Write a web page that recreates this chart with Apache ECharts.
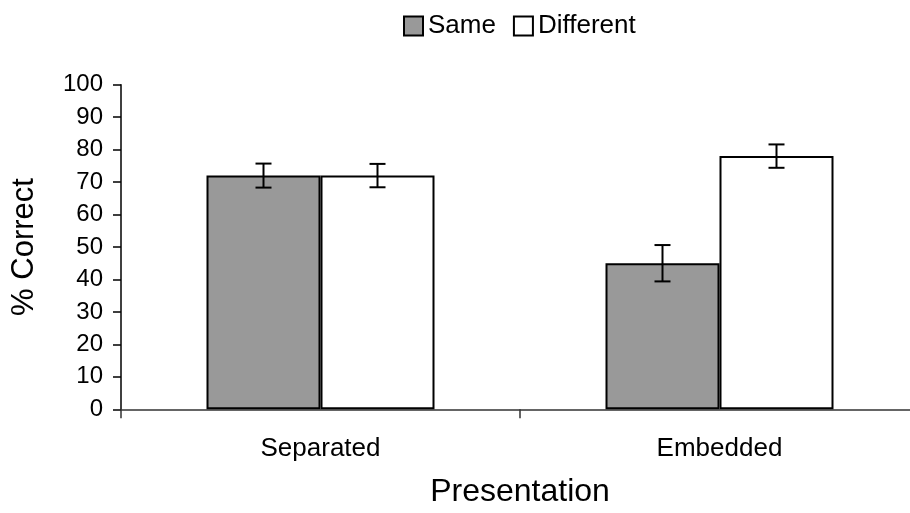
<!DOCTYPE html>
<html>
<head>
<meta charset="utf-8">
<script src="https://cdn.jsdelivr.net/npm/echarts@6/dist/echarts.min.js"></script>
<style>
html,body{margin:0;padding:0;background:#fff;}
#chart{width:910px;height:513px;}
</style>
</head>
<body>
<div id="chart"></div>
<script>
const categories = ['Separated', 'Embedded'];
const seriesNames = ['Same', 'Different'];
const sameValues = [72, 45];
const differentValues = [72, 78];
const sameErrors = [3.7, 5.6];
const differentErrors = [3.6, 3.6];
const yTicks = [0, 10, 20, 30, 40, 50, 60, 70, 80, 90, 100];

const FONT = '"Liberation Sans", Arial, sans-serif';
const BAR_W = 114;
const CAP_W = 16;

function errorSeries(name, values, errors, sign) {
  return {
    type: 'custom',
    name: name + ' error',
    silent: true,
    z: 5,
    data: values.map((v, i) => [i, v, errors[i]]),
    renderItem: function (params, api) {
      const idx = api.value(0);
      const v = api.value(1);
      const e = api.value(2);
      const top = api.coord([idx, v + e]);
      const bot = api.coord([idx, v - e]);
      const x = top[0] + sign * BAR_W / 2;
      const style = { stroke: '#000', lineWidth: 2, fill: null };
      return {
        type: 'group',
        children: [
          { type: 'line', shape: { x1: x, y1: top[1], x2: x, y2: bot[1] }, style: style },
          { type: 'line', shape: { x1: x - CAP_W / 2, y1: top[1], x2: x + CAP_W / 2, y2: top[1] }, style: style },
          { type: 'line', shape: { x1: x - CAP_W / 2, y1: bot[1], x2: x + CAP_W / 2, y2: bot[1] }, style: style }
        ]
      };
    }
  };
}

const chart = echarts.init(document.getElementById('chart'));
chart.setOption({
  animation: false,
  backgroundColor: '#fff',
  textStyle: { fontFamily: FONT },
  legend: {
    data: seriesNames,
    left: 398,
    top: 8,
    itemWidth: 19,
    itemHeight: 19,
    itemGap: 17,
    icon: 'rect',
    textStyle: { fontSize: 26, color: '#000', fontFamily: FONT },
    itemStyle: { borderColor: '#000', borderWidth: 2 }
  },
  grid: { left: 121, top: 84.7, bottom: 103.7, right: -9, containLabel: false, outerBoundsMode: 'none' },
  xAxis: {
    type: 'category',
    data: categories,
    name: 'Presentation',
    nameLocation: 'middle',
    nameGap: 67,
    nameTextStyle: { fontSize: 32, color: '#000', fontFamily: FONT },
    axisLine: { lineStyle: { color: '#333', width: 1.5 } },
    axisTick: { show: true, length: 9, lineStyle: { color: '#333', width: 1.5 } },
    axisLabel: { fontSize: 26, color: '#000', margin: 27, fontFamily: FONT },
    splitLine: { show: false }
  },
  yAxis: {
    type: 'value',
    min: yTicks[0],
    max: yTicks[yTicks.length - 1],
    interval: yTicks[1] - yTicks[0],
    name: '% Correct',
    nameLocation: 'middle',
    nameGap: 81,
    nameTextStyle: { fontSize: 31, color: '#000', fontFamily: FONT },
    axisLine: { show: true, lineStyle: { color: '#000', width: 1.5 } },
    axisTick: { show: true, inside: false, length: 8, lineStyle: { color: '#000', width: 1.5 } },
    axisLabel: { fontSize: 24, color: '#000', margin: 18, fontFamily: FONT },
    splitLine: { show: false }
  },
  series: [
    {
      name: seriesNames[0],
      type: 'bar',
      data: sameValues,
      barWidth: BAR_W,
      barGap: '0%',
      itemStyle: { color: '#999999', borderColor: '#000', borderWidth: 2 }
    },
    {
      name: seriesNames[1],
      type: 'bar',
      data: differentValues,
      barWidth: BAR_W,
      barGap: '0%',
      itemStyle: { color: '#ffffff', borderColor: '#000', borderWidth: 2 }
    },
    errorSeries(seriesNames[0], sameValues, sameErrors, -1),
    errorSeries(seriesNames[1], differentValues, differentErrors, 1)
  ]
});
</script>
</body>
</html>
